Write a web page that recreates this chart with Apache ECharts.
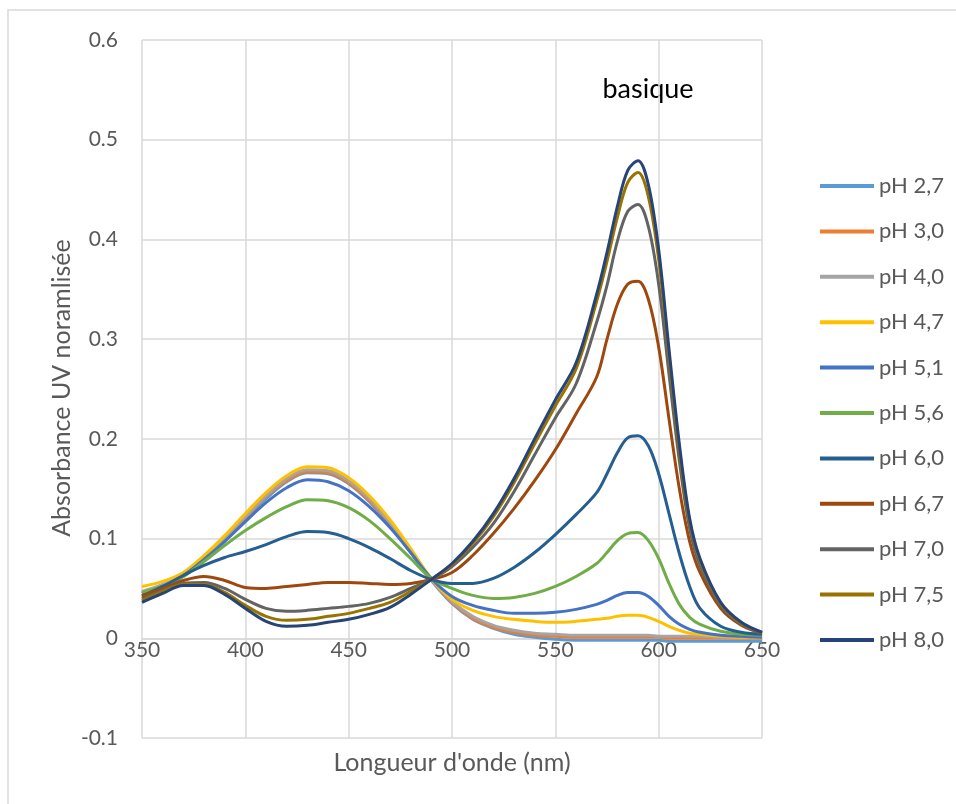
<!DOCTYPE html>
<html>
<head>
<meta charset="utf-8">
<script src="https://cdn.jsdelivr.net/npm/echarts@6/dist/echarts.min.js"></script>
<style>html,body{margin:0;padding:0;background:#fff}#c{width:956px;height:804px}</style>
</head>
<body>
<div id="c"></div>
<script>
// Wavelengths (nm)
const wl = [350,360,370,380,390,400,410,420,430,440,450,460,470,480,490,500,510,520,530,540,550,560,570,575,580,585,590,595,600,605,610,615,620,630,640,650];

const seriesNames = ['pH 2,7','pH 3,0','pH 4,0','pH 4,7','pH 5,1','pH 5,6','pH 6,0','pH 6,7','pH 7,0','pH 7,5','pH 8,0'];
const seriesColors = ['#5B9BD5','#ED7D31','#A5A5A5','#FFC000','#4472C4','#70AD47','#255E91','#9E480E','#636363','#997300','#264478'];

const pH27 = [0.045,0.052,0.062,0.079,0.099,0.120,0.140,0.157,0.166,0.165,0.155,0.137,0.114,0.086,0.058,0.035,0.019,0.010,0.004,0.001,-0.001,-0.002,-0.002,-0.002,-0.002,-0.002,-0.002,-0.002,-0.002,-0.003,-0.003,-0.003,-0.003,-0.003,-0.003,-0.003];
const pH30 = [0.046,0.053,0.063,0.080,0.100,0.121,0.142,0.158,0.167,0.166,0.156,0.138,0.115,0.087,0.059,0.036,0.020,0.011,0.006,0.003,0.002,0.001,0.001,0.001,0.001,0.001,0.001,0.001,0.001,0.000,0.000,0.000,0.000,0.000,0.000,0.000];
const pH40 = [0.047,0.054,0.064,0.081,0.101,0.122,0.143,0.160,0.169,0.168,0.158,0.140,0.116,0.088,0.059,0.037,0.022,0.013,0.008,0.005,0.004,0.003,0.003,0.003,0.003,0.003,0.003,0.003,0.002,0.002,0.002,0.002,0.002,0.001,0.001,0.001];
const pH47 = [0.052,0.057,0.066,0.083,0.103,0.125,0.146,0.163,0.172,0.171,0.161,0.143,0.119,0.090,0.060,0.039,0.028,0.022,0.019,0.017,0.016,0.017,0.019,0.020,0.022,0.023,0.023,0.021,0.017,0.012,0.008,0.005,0.004,0.002,0.001,0.001];
const pH51 = [0.045,0.052,0.063,0.079,0.097,0.117,0.136,0.151,0.159,0.157,0.148,0.132,0.111,0.086,0.060,0.042,0.033,0.028,0.025,0.025,0.026,0.029,0.034,0.038,0.043,0.046,0.046,0.042,0.033,0.022,0.014,0.009,0.006,0.003,0.002,0.001];
const pH56 = [0.046,0.052,0.062,0.077,0.093,0.108,0.121,0.132,0.139,0.138,0.131,0.118,0.100,0.080,0.060,0.050,0.043,0.040,0.041,0.045,0.052,0.062,0.075,0.086,0.098,0.105,0.106,0.098,0.080,0.055,0.034,0.021,0.014,0.007,0.004,0.003];
const pH60 = [0.042,0.052,0.063,0.073,0.081,0.087,0.094,0.102,0.107,0.106,0.100,0.091,0.080,0.068,0.059,0.055,0.055,0.060,0.071,0.086,0.104,0.124,0.146,0.165,0.186,0.201,0.203,0.193,0.165,0.125,0.085,0.052,0.030,0.012,0.006,0.004];
const pH67 = [0.043,0.050,0.058,0.062,0.058,0.051,0.050,0.052,0.054,0.056,0.056,0.055,0.054,0.055,0.059,0.066,0.083,0.105,0.130,0.158,0.189,0.225,0.262,0.300,0.335,0.355,0.358,0.340,0.292,0.220,0.150,0.097,0.066,0.030,0.013,0.005];
const pH70 = [0.040,0.048,0.055,0.056,0.050,0.039,0.030,0.027,0.028,0.030,0.032,0.035,0.041,0.050,0.059,0.072,0.091,0.115,0.147,0.184,0.221,0.255,0.317,0.354,0.398,0.428,0.435,0.413,0.355,0.265,0.178,0.110,0.073,0.033,0.014,0.005];
const pH75 = [0.038,0.047,0.054,0.054,0.046,0.033,0.022,0.018,0.019,0.022,0.025,0.030,0.036,0.047,0.059,0.074,0.095,0.122,0.156,0.195,0.233,0.270,0.338,0.378,0.422,0.457,0.467,0.443,0.380,0.283,0.190,0.117,0.078,0.035,0.015,0.006];
const pH80 = [0.036,0.045,0.053,0.053,0.044,0.030,0.017,0.012,0.013,0.016,0.019,0.024,0.031,0.044,0.059,0.075,0.097,0.125,0.160,0.200,0.239,0.276,0.345,0.387,0.433,0.469,0.479,0.455,0.390,0.290,0.195,0.120,0.080,0.036,0.016,0.006];

const allValues = [pH27,pH30,pH40,pH47,pH51,pH56,pH60,pH67,pH70,pH75,pH80];

const xTicks = {min: 350, max: 650, interval: 50};
const yTicks = {min: -0.1, max: 0.6, interval: 0.1};

const FONT = 'Lato';
const chart = echarts.init(document.getElementById('c'), null, {renderer: 'canvas'});

const series = allValues.map((vals, i) => ({
  name: seriesNames[i],
  type: 'line',
  showSymbol: false,
  smooth: 0.35,
  data: wl.map((w, j) => [w, vals[j]]),
  lineStyle: {width: 3, color: seriesColors[i]},
  itemStyle: {color: seriesColors[i]},
  emphasis: {disabled: true},
  z: 2 + i
}));

// Grid geometry: the x axis sits on the zero line
const gridTop = 40, gridBottom = 66, chartH = 804;
const plotH = chartH - gridTop - gridBottom;
const zeroOffset = -plotH * (0 - yTicks.min) / (yTicks.max - yTicks.min);

chart.setOption({
  animation: false,
  backgroundColor: '#ffffff',
  grid: {left: 142, right: 194, top: gridTop, bottom: gridBottom, containLabel: false},
  xAxis: {
    type: 'value',
    min: xTicks.min, max: xTicks.max, interval: xTicks.interval,
    offset: zeroOffset,
    axisLine: {show: true, onZero: false, lineStyle: {color: '#d9d9d9', width: 1.5}},
    axisTick: {show: false},
    axisLabel: {color: '#595959', fontFamily: FONT, fontSize: 21, margin: 1},
    splitLine: {show: true, lineStyle: {color: '#d9d9d9', width: 1.5}}
  },
  yAxis: {
    type: 'value',
    min: yTicks.min, max: yTicks.max, interval: yTicks.interval,
    axisLine: {show: false},
    axisTick: {show: false},
    axisLabel: {color: '#595959', fontFamily: FONT, fontSize: 21, margin: 24,
      formatter: v => Math.abs(v) < 1e-9 ? '0' : v.toFixed(1)},
    splitLine: {show: true, lineStyle: {color: '#d9d9d9', width: 1.5}}
  },
  legend: {
    orient: 'vertical',
    left: 815, top: 170,
    itemWidth: 54, itemHeight: 4,
    itemGap: 23.4,
    icon: 'rect',
    textStyle: {color: '#595959', fontFamily: FONT, fontSize: 22, lineHeight: 20},
    data: seriesNames.map((n, i) => ({name: n, icon: 'rect', itemStyle: {color: seriesColors[i]}}))
  },
  graphic: [
    {type: 'rect', shape: {x: 8, y: 10, width: 1000, height: 900}, style: {fill: 'none', stroke: '#d9d9d9', lineWidth: 1.5}, z: -10, silent: true},
    {type: 'text', x: 452, y: 763, style: {text: "Longueur d'onde (nm)", fill: '#595959', font: '25px ' + FONT, textAlign: 'center', textVerticalAlign: 'middle'}},
    {type: 'text', x: 62, y: 388, rotation: Math.PI / 2, style: {text: 'Absorbance UV noramlisée', fill: '#595959', font: '25px ' + FONT, textAlign: 'center', textVerticalAlign: 'middle'}},
    {type: 'text', x: 648, y: 89, style: {text: 'basique', fill: '#000000', font: '27px ' + FONT, textAlign: 'center', textVerticalAlign: 'middle'}}
  ],
  series: series
});
</script>
</body>
</html>
